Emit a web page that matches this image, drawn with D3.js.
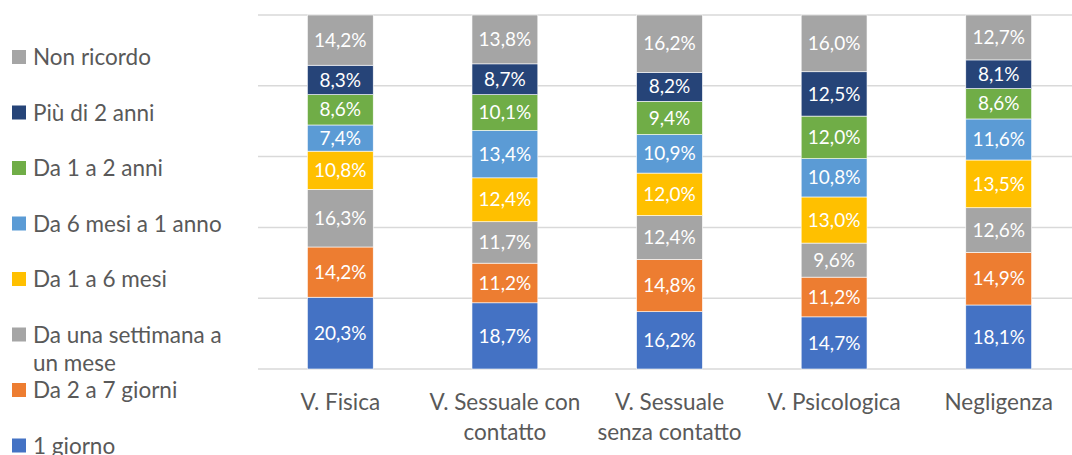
<!DOCTYPE html>
<html>
<head>
<meta charset="utf-8">
<script src="https://cdn.jsdelivr.net/npm/d3@7"></script>
<style>
  body { margin: 0; background: #fff; }
  text { font-family: Lato, "Open Sans", sans-serif; }
</style>
</head>
<body>
<div id="chart"></div>
<script>
// categories (x axis)
var categories = ["V. Fisica", "V. Sessuale con contatto", "V. Sessuale senza contatto", "V. Psicologica", "Negligenza"];

// series, bottom to top
var seriesNames = ["1 giorno", "Da 2 a 7 giorni", "Da una settimana a un mese", "Da 1 a 6 mesi",
                   "Da 6 mesi a 1 anno", "Da 1 a 2 anni", "Più di 2 anni", "Non ricordo"];
var seriesColors = ["#4472C4", "#ED7D31", "#A5A5A5", "#FFC000", "#5B9BD5", "#70AD47", "#264478", "#A5A5A5"];

// values per series, one per category (percent)
var unGiorno      = [20.3, 18.7, 16.2, 14.7, 18.1];
var da2a7giorni   = [14.2, 11.2, 14.8, 11.2, 14.9];
var settimanaMese = [16.3, 11.7, 12.4,  9.6, 12.6];
var da1a6mesi     = [10.8, 12.4, 12.0, 13.0, 13.5];
var da6mesi1anno  = [ 7.4, 13.4, 10.9, 10.8, 11.6];
var da1a2anni     = [ 8.6, 10.1,  9.4, 12.0,  8.6];
var piuDi2anni    = [ 8.3,  8.7,  8.2, 12.5,  8.1];
var nonRicordo    = [14.2, 13.8, 16.2, 16.0, 12.7];

var allSeries = [unGiorno, da2a7giorni, settimanaMese, da1a6mesi, da6mesi1anno, da1a2anni, piuDi2anni, nonRicordo];
var yTicks = [0, 0.2, 0.4, 0.6, 0.8, 1];

// build rows for d3.stack
var rows = categories.map(function(c, i) {
  var r = { cat: c };
  seriesNames.forEach(function(s, j) { r[s] = allSeries[j][i]; });
  return r;
});

var W = 1072, H = 455;
var plot = { left: 258, right: 1081, top: 15, bottom: 369 };

var svg = d3.select("#chart").append("svg")
  .attr("width", W)
  .attr("height", H);

var x = d3.scaleBand()
  .domain(categories)
  .range([plot.left, plot.right])
  .paddingInner(0.6)
  .paddingOuter(0.3);

var y = d3.scaleLinear()
  .domain([0, 1])
  .range([plot.bottom, plot.top]);

// gridlines
svg.append("g")
  .selectAll("line")
  .data(yTicks)
  .enter().append("line")
    .attr("x1", plot.left)
    .attr("x2", W)
    .attr("y1", function(d) { return y(d); })
    .attr("y2", function(d) { return y(d); })
    .attr("stroke", "#D9D9D9")
    .attr("stroke-width", 1.5);

// 100% stacked
var stack = d3.stack()
  .keys(seriesNames)
  .offset(d3.stackOffsetExpand);
var stacked = stack(rows);

var layers = svg.append("g")
  .selectAll("g")
  .data(stacked)
  .enter().append("g")
    .attr("fill", function(d, i) { return seriesColors[i]; });

layers.selectAll("rect")
  .data(function(d) { return d; })
  .enter().append("rect")
    .attr("x", function(d) { return x(d.data.cat); })
    .attr("width", x.bandwidth())
    .attr("y", function(d) { return y(d[1]); })
    .attr("height", function(d) { return y(d[0]) - y(d[1]); })
    .attr("stroke", "#fff")
    .attr("stroke-width", 0.6);

// data labels
layers.selectAll("text")
  .data(function(d) { return d.map(function(p) { p.key = d.key; return p; }); })
  .enter().append("text")
    .attr("x", function(d) { return x(d.data.cat) + x.bandwidth() / 2; })
    .attr("y", function(d) { return (y(d[0]) + y(d[1])) / 2; })
    .attr("dy", "0.35em")
    .attr("text-anchor", "middle")
    .attr("fill", "#fff")
    .style("font-size", "19px")
    .text(function(d) { return d.data[d.key].toFixed(1).replace(".", ",") + "%"; });

// x axis labels, wrapped
var xLabels = svg.append("g")
  .selectAll("text")
  .data(categories)
  .enter().append("text")
    .attr("x", function(d) { return x(d) + x.bandwidth() / 2; })
    .attr("y", 410)
    .attr("text-anchor", "middle")
    .attr("fill", "#595959")
    .style("font-size", "22.5px")
    .text(function(d) { return d; });

xLabels.call(wrap, 168, 30);

// legend (top to bottom reversed series)
var legendOrder = seriesNames.slice().reverse();
var legendColors = seriesColors.slice().reverse();
var legend = svg.append("g")
  .selectAll("g")
  .data(legendOrder)
  .enter().append("g")
    .attr("transform", function(d, i) { return "translate(12," + (57 + i * 55.5) + ")"; });

legend.append("rect")
  .attr("x", 0)
  .attr("y", -7)
  .attr("width", 14)
  .attr("height", 14)
  .attr("fill", function(d, i) { return legendColors[i]; });

legend.append("text")
  .attr("x", 21)
  .attr("y", 8)
  .attr("fill", "#595959")
  .style("font-size", "22.5px")
  .text(function(d) { return d; })
  .call(wrap, 215, 28);

function wrap(sel, width, lineH) {
  sel.each(function() {
    var t = d3.select(this);
    var words = t.text().split(/\s+/);
    var xx = t.attr("x"), yy = t.attr("y");
    t.text(null);
    var line = [];
    var n = 0;
    var tspan = t.append("tspan").attr("x", xx).attr("y", yy);
    words.forEach(function(w) {
      line.push(w);
      tspan.text(line.join(" "));
      if (tspan.node().getComputedTextLength() > width && line.length > 1) {
        line.pop();
        tspan.text(line.join(" "));
        line = [w];
        n++;
        tspan = t.append("tspan").attr("x", xx).attr("y", +yy + n * lineH).text(w);
      }
    });
  });
}
</script>
</body>
</html>
